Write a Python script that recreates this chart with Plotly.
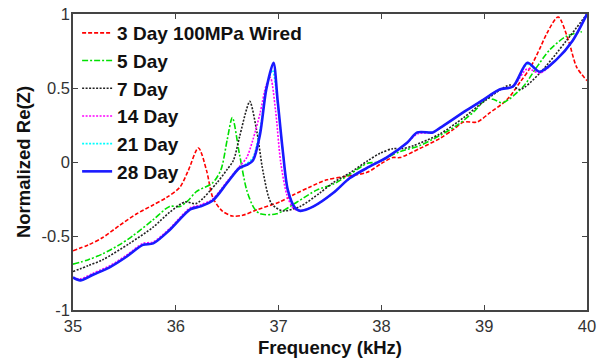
import plotly.graph_objects as go

# ---- data ----
red_f = [35.0, 35.15, 35.29, 35.45, 35.62, 35.78, 35.91, 36.04, 36.12, 36.22, 36.30, 36.36, 36.45,
         36.55, 36.65, 36.8, 37.01, 37.15, 37.3, 37.47, 37.63, 37.86, 38.0, 38.11, 38.18, 38.37,
         38.57, 38.70, 38.80, 38.93, 39.05, 39.22, 39.35, 39.45, 39.55, 39.61, 39.72, 39.82, 39.9, 40.0]
red_v = [-0.60, -0.56, -0.51, -0.43, -0.35, -0.29, -0.24, -0.17, -0.06, 0.095, -0.06, -0.24, -0.33,
         -0.365, -0.36, -0.32, -0.27, -0.22, -0.17, -0.12, -0.10, -0.07, -0.01, 0.03, 0.03, 0.09,
         0.16, 0.22, 0.27, 0.27, 0.33, 0.42, 0.54, 0.64, 0.78, 0.87, 0.98, 0.82, 0.64, 0.55]

green_f = [35.0, 35.15, 35.29, 35.45, 35.58, 35.78, 35.94, 36.04, 36.12, 36.2, 36.36, 36.44, 36.5,
           36.55, 36.62, 36.69, 36.76, 36.82, 36.98, 37.18, 37.37, 37.53, 37.7, 37.86, 37.96, 38.18,
           38.37, 38.57, 38.74, 38.9, 39.03, 39.1, 39.18, 39.38, 39.5, 39.64, 39.8, 39.95]
green_v = [-0.69, -0.66, -0.62, -0.56, -0.50, -0.39, -0.30, -0.30, -0.26, -0.20, -0.14, -0.05, 0.15,
           0.30, 0.05, -0.19, -0.31, -0.35, -0.35, -0.27, -0.19, -0.15, -0.08, -0.01, 0.00, 0.07,
           0.11, 0.18, 0.25, 0.34, 0.43, 0.42, 0.40, 0.51, 0.63, 0.76, 0.85, 0.88]

black_f = [35.0, 35.15, 35.29, 35.55, 35.78, 35.94, 36.09, 36.2, 36.4, 36.5, 36.56, 36.62, 36.69,
           36.72, 36.79, 36.85, 36.93, 37.04, 37.21, 37.4, 37.53, 37.7, 37.87, 37.99, 38.11, 38.2,
           38.31, 38.57, 38.8, 39.0, 39.25, 39.35, 39.54, 39.8, 40.0]
black_v = [-0.74, -0.70, -0.66, -0.55, -0.44, -0.34, -0.27, -0.28, -0.14, -0.05, 0.01, 0.17, 0.36,
           0.41, 0.20, -0.07, -0.28, -0.33, -0.30, -0.21, -0.14, -0.07, 0.01, 0.06, 0.09, 0.09,
           0.11, 0.19, 0.30, 0.41, 0.52, 0.49, 0.60, 0.82, 1.0]

mag_f = [35.0, 35.07, 35.2, 35.36, 35.52, 35.68, 35.78, 35.94, 36.14, 36.24, 36.36, 36.5, 36.62,
         36.69, 36.75, 36.82, 36.88, 36.92, 36.97, 37.02, 37.08, 37.14, 37.2, 37.34, 37.53, 37.69,
         37.86, 38.05, 38.25, 38.35, 38.5, 38.57, 38.83, 38.99, 39.15, 39.28, 39.42, 39.54, 39.7,
         39.86, 40.0]
mag_v = [-0.78, -0.79, -0.75, -0.70, -0.63, -0.55, -0.54, -0.45, -0.31, -0.29, -0.25, -0.13, -0.03,
         0.03, 0.15, 0.33, 0.52, 0.57, 0.35, 0.0, -0.22, -0.31, -0.33, -0.30, -0.21, -0.11,
         -0.04, 0.03, 0.13, 0.19, 0.20, 0.23, 0.35, 0.42, 0.49, 0.51, 0.63, 0.60, 0.69, 0.82, 1.0]

cyan_f = [35.0, 35.07, 35.2, 35.36, 35.52, 35.68, 35.78, 35.94, 36.14, 36.24, 36.36, 36.5, 36.62,
          36.69, 36.75, 36.82, 36.88, 36.94, 36.99, 37.04, 37.09, 37.16, 37.21, 37.34, 37.53, 37.69,
          37.86, 38.05, 38.25, 38.35, 38.5, 38.57, 38.83, 38.99, 39.15, 39.28, 39.42, 39.54, 39.7,
          39.86, 40.0]
cyan_v = [-0.78, -0.80, -0.76, -0.71, -0.64, -0.56, -0.55, -0.46, -0.32, -0.30, -0.26, -0.14, -0.04,
          -0.01, 0.03, 0.22, 0.50, 0.62, 0.40, 0.08, -0.19, -0.31, -0.33, -0.30, -0.21, -0.11,
          -0.04, 0.03, 0.13, 0.20, 0.20, 0.23, 0.35, 0.42, 0.49, 0.51, 0.66, 0.61, 0.69, 0.82, 1.0]

blue_f = [35.0, 35.07, 35.2, 35.36, 35.52, 35.68, 35.78, 35.94, 36.14, 36.24, 36.36, 36.5, 36.62,
          36.69, 36.75, 36.82, 36.88, 36.95, 36.99, 37.04, 37.09, 37.16, 37.21, 37.34, 37.53, 37.69,
          37.86, 38.05, 38.25, 38.35, 38.5, 38.57, 38.83, 38.99, 39.15, 39.28, 39.42, 39.54, 39.7,
          39.86, 40.0]
blue_v = [-0.78, -0.80, -0.76, -0.71, -0.64, -0.56, -0.55, -0.46, -0.32, -0.30, -0.26, -0.14, -0.04,
          -0.02, 0.01, 0.19, 0.49, 0.67, 0.42, 0.08, -0.19, -0.31, -0.33, -0.30, -0.21, -0.11,
          -0.04, 0.03, 0.13, 0.20, 0.20, 0.23, 0.35, 0.42, 0.49, 0.51, 0.67, 0.61, 0.69, 0.82, 1.0]

names = ["3 Day 100MPa Wired", "5 Day", "7 Day", "14 Day", "21 Day", "28 Day"]
x_ticks = [35, 36, 37, 38, 39, 40]
y_ticks = [-1, -0.5, 0, 0.5, 1]
y_tick_text = ["-1", "-0.5", "0", "0.5", "1"]

series = [
    (red_f, red_v, "#ff0000", "4px,2px", 1.6),
    (green_f, green_v, "#00e000", "6px,2px,2px,2px", 1.6),
    (black_f, black_v, "#222222", "2px,1.5px", 1.6),
    (mag_f, mag_v, "#ff00ff", "2px,1.5px", 1.6),
    (cyan_f, cyan_v, "#00ffff", "2px,1.5px", 1.6),
    (blue_f, blue_v, "#1a1aff", "solid", 2.6),
]

fig = go.Figure()
for (f, v, c, d, w), n in zip(series, names):
    fig.add_trace(go.Scatter(x=f, y=v, mode="lines", name=n,
                             line=dict(color=c, dash=d, width=w, shape="spline", smoothing=0.8)))

font_family = "Arial, Liberation Sans, sans-serif"
fig.update_layout(
    width=607, height=362,
    margin=dict(l=73, r=20, t=14, b=52, autoexpand=False),
    plot_bgcolor="white", paper_bgcolor="white",
    font=dict(family=font_family, color="#222222"),
    showlegend=True,
    legend=dict(x=0.008, y=1.0, xanchor="left", yanchor="top",
                bgcolor="rgba(0,0,0,0)", borderwidth=0,
                font=dict(size=19, family=font_family, color="#111111", weight="bold"),
                tracegroupgap=0, itemwidth=30),
    xaxis=dict(range=[35, 40], tickvals=x_ticks, ticktext=[str(t) for t in x_ticks],
               ticks="inside", ticklen=5, tickcolor="#444", showline=True, linecolor="#444",
               linewidth=1.5, mirror="ticks", showgrid=False, zeroline=False, automargin=False,
               tickfont=dict(size=16.5, color="#333333"), ticklabelstandoff=0,
               title=dict(text="Frequency (kHz)", font=dict(size=18.5, weight="bold", color="#111111"),
                          standoff=8)),
    yaxis=dict(range=[-1, 1], tickvals=y_ticks, ticktext=y_tick_text,
               ticks="inside", ticklen=5, tickcolor="#444", showline=True, linecolor="#444",
               linewidth=1.5, mirror="ticks", showgrid=False, zeroline=False, automargin=False,
               tickfont=dict(size=16.5, color="#333333"), ticklabelstandoff=-2,
               title=dict(text="Normalized Re(Z)", font=dict(size=18.5, weight="bold", color="#111111"),
                          standoff=6)),
)

fig.write_html("out.html", config={"displayModeBar": False},
               post_script="document.body.style.margin='0';")
